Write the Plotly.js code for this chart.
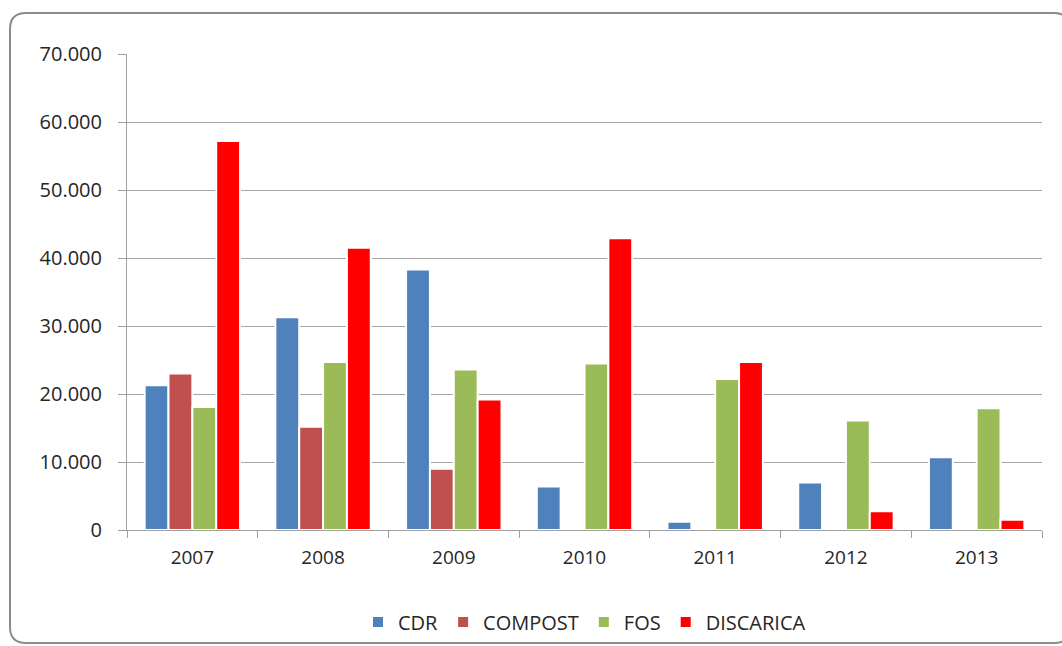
<!DOCTYPE html>
<html>
<head>
<meta charset="utf-8">
<script src="https://cdn.plot.ly/plotly-3.0.1.min.js"></script>
<style>
  html, body { margin: 0; padding: 0; background: #fff; }
  #chart { width: 1062px; height: 646px; }
</style>
</head>
<body>
<div id="chart"></div>
<script>
// Years on the category axis
const years = ['2007', '2008', '2009', '2010', '2011', '2012', '2013'];

// Quantities per destination (tonnes)
const cdr       = [21300, 31300, 38300, 6400, 1200, 7000, 10700];
const compost   = [23000, 15200, 9000, null, null, null, null];
const fos       = [18100, 24700, 23600, 24500, 22200, 16100, 17900];
const discarica = [57200, 41500, 19200, 42900, 24700, 2750, 1500];

const seriesNames = ['CDR', 'COMPOST', 'FOS', 'DISCARICA'];
const seriesColors = ['#4F81BD', '#C0504D', '#9BBB59', '#FF0000'];
const seriesValues = [cdr, compost, fos, discarica];

const W = 1062, H = 646;
const M = { l: 127, r: 20, t: 54, b: 116, autoexpand: false };
const plotW = W - M.l - M.r, plotH = H - M.t - M.b;

// pixel -> paper coordinates, for the outer rounded frame
const px = v => (v - M.l) / plotW;
const py = v => (H - M.b - v) / plotH;

function roundedFrame(x0, y0, x1, y1, r) {
  const f = (x, y) => px(x) + ',' + py(y);
  return 'M' + f(x0 + r, y0) +
    ' L' + f(x1 - r, y0) + ' Q' + f(x1, y0) + ' ' + f(x1, y0 + r) +
    ' L' + f(x1, y1 - r) + ' Q' + f(x1, y1) + ' ' + f(x1 - r, y1) +
    ' L' + f(x0 + r, y1) + ' Q' + f(x0, y1) + ' ' + f(x0, y1 - r) +
    ' L' + f(x0, y0 + r) + ' Q' + f(x0, y0) + ' ' + f(x0 + r, y0) + ' Z';
}

const traces = seriesNames.map((name, i) => ({
  type: 'bar',
  name: name,
  x: years,
  y: seriesValues[i],
  marker: { color: seriesColors[i], line: { color: '#ffffff', width: 2 } },
  hoverinfo: 'x+y+name'
}));

const font = { family: '"Open Sans", sans-serif', size: 20, color: '#262626' };

const layout = {
  width: W,
  height: H,
  margin: M,
  paper_bgcolor: '#ffffff',
  plot_bgcolor: '#ffffff',
  separators: ',.',
  font: font,
  barmode: 'group',
  bargap: 0.27,
  bargroupgap: 0,
  showlegend: true,
  legend: {
    orientation: 'h',
    x: 0.5,
    xanchor: 'center',
    y: py(622),
    yanchor: 'middle',
    font: { family: font.family, size: 20, color: '#262626' },
    itemwidth: 30,
    tracegroupgap: 0
  },
  xaxis: {
    type: 'category',
    tickson: 'boundaries',
    ticks: 'outside',
    ticklen: 7,
    tickcolor: '#a0a0a0',
    showline: true,
    linecolor: '#a0a0a0',
    linewidth: 1,
    showgrid: false,
    zeroline: false,
    tickfont: { family: font.family, size: 19, color: '#262626' },
    ticklabelstandoff: 10
  },
  yaxis: {
    range: [0, 70000],
    dtick: 10000,
    tickformat: ',d',
    ticks: 'outside',
    ticklen: 8,
    tickcolor: '#a0a0a0',
    showline: true,
    linecolor: '#a0a0a0',
    linewidth: 1,
    showgrid: true,
    gridcolor: '#a6a6a6',
    gridwidth: 1,
    zeroline: false,
    tickfont: { family: font.family, size: 20, color: '#262626' },
    ticklabelstandoff: 12
  },
  shapes: [{
    type: 'path',
    xref: 'paper',
    yref: 'paper',
    path: roundedFrame(10, 13, 1070, 643, 16),
    line: { color: '#8c8c8c', width: 2 },
    fillcolor: 'rgba(0,0,0,0)',
    layer: 'below'
  }]
};

Plotly.newPlot('chart', traces, layout, { displayModeBar: false, staticPlot: true });
</script>
</body>
</html>
